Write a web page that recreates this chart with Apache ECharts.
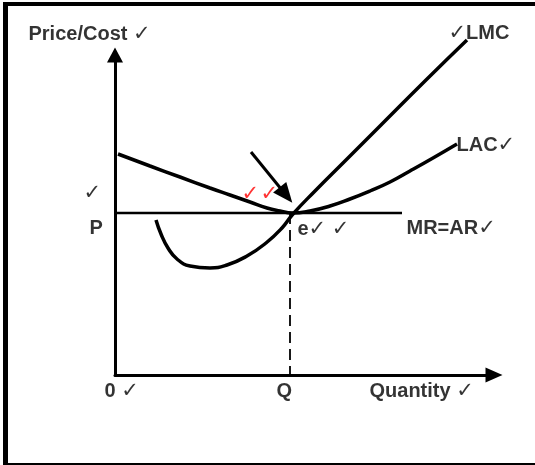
<!DOCTYPE html>
<html>
<head>
<meta charset="utf-8">
<script src="https://cdn.jsdelivr.net/npm/echarts@6/dist/echarts.min.js"></script>
<style>
  html, body { margin: 0; padding: 0; background: #fff; }
  #chart { width: 535px; height: 465px; }
</style>
</head>
<body>
<div id="chart"></div>
<script>
// curves, in plot units (x = quantity, y = price/cost)
const lacPoints = [[3, 221], [35, 209], [65, 198], [95, 187], [115, 180], [135, 173], [152, 167], [165, 164],
  [177, 162], [195, 164], [215, 169], [235, 176], [255, 184], [275, 193], [295, 204], [318, 217], [342, 231]];
const lmcPoints = [[41, 155], [46, 141], [53, 127], [62, 116], [75, 109], [95, 107], [112, 110], [132, 119],
  [151, 132], [167, 147], [178, 161], [200, 184], [230, 214], [265, 249], [310, 294], [352, 335]];
const priceLevel = 162;
const priceLineEnd = 287;
const qLevel = 175;
const pointerFrom = [136, 223];
const pointerTo = [171, 180];

// texts and where they sit
const labelTexts = ["Price/Cost ✓", "✓LMC", "LAC✓", "MR=AR✓", "e✓ ✓", "✓", "P", "0 ✓", "Q", "Quantity ✓"];
const labelAt = [[-86, 340], [334, 341], [342, 229], [292, 146], [183, 145], [-31, 181], [-25, 146],
  [-10, -17], [162, -17], [255, -17]];
const redTicks = [[127, 180], [146, 180]];

const font = "'Liberation Sans', Arial, sans-serif";
const tickFont = "'DejaVu Sans', sans-serif";

function richText(s) {
  return s.split(/(✓)/).filter(Boolean)
    .map(t => t === "✓" ? "{c|✓}" : "{b|" + t + "}").join("");
}

const chart = echarts.init(document.getElementById("chart"));

const line = (data, extra) => Object.assign({
  type: "line",
  data: data,
  symbol: "none",
  silent: true,
  clip: false,
  lineStyle: { color: "#000", width: 3.5 }
}, extra);

chart.setOption({
  animation: false,
  backgroundColor: "#fff",
  grid: { left: 115, right: 41, top: 55, bottom: 90 },
  xAxis: {
    type: "value", min: 0, max: 379,
    axisLine: { show: true, onZero: false, lineStyle: { color: "#000", width: 3 }, symbol: ["none", "triangle"], symbolSize: [15, 17] },
    axisTick: { show: false }, axisLabel: { show: false }, splitLine: { show: false }
  },
  yAxis: {
    type: "value", min: 0, max: 320,
    axisLine: { show: true, onZero: false, lineStyle: { color: "#000", width: 3 }, symbol: ["none", "triangle"], symbolSize: [16, 15] },
    axisTick: { show: false }, axisLabel: { show: false }, splitLine: { show: false }
  },
  graphic: [
    { type: "rect", shape: { x: 3, y: 2, width: 5, height: 463 }, style: { fill: "#000" }, silent: true },
    { type: "rect", shape: { x: 3, y: 2, width: 532, height: 4 }, style: { fill: "#000" }, silent: true },
    { type: "rect", shape: { x: 3, y: 463, width: 532, height: 2 }, style: { fill: "#000" }, silent: true }
  ],
  series: [
    line(lacPoints, { name: "LAC", smooth: true }),
    line(lmcPoints, { name: "LMC", smooth: true }),
    line([[0, priceLevel], [priceLineEnd, priceLevel]], {
      name: "MR=AR",
      lineStyle: { color: "#000", width: 2.5 },
      markLine: {
        silent: true,
        symbol: ["none", "triangle"],
        symbolSize: [17, 20],
        label: { show: false },
        lineStyle: { color: "#000", width: 3, type: "solid" },
        data: [[{ coord: pointerFrom }, { coord: pointerTo }]]
      }
    }),
    line([[qLevel, priceLevel], [qLevel, 0]], {
      name: "Q",
      lineStyle: { color: "#000", width: 1.8, type: [11, 6] }
    }),
    {
      type: "scatter",
      silent: true,
      clip: false,
      symbolSize: 1,
      itemStyle: { color: "rgba(0,0,0,0)" },
      data: labelAt.map((p, i) => ({ value: p, name: labelTexts[i] })),
      label: {
        show: true,
        position: [0, 0],
        align: "left",
        verticalAlign: "middle",
        color: "#000",
        formatter: p => richText(p.name),
        rich: {
          b: { fontFamily: font, fontWeight: "bold", fontSize: 20, color: "#000", lineHeight: 24 },
          c: { fontFamily: tickFont, fontSize: 21, color: "#000", lineHeight: 24 }
        }
      }
    },
    {
      type: "scatter",
      silent: true,
      clip: false,
      symbolSize: 1,
      itemStyle: { color: "rgba(0,0,0,0)" },
      data: redTicks,
      label: {
        show: true,
        position: [0, 0],
        align: "left",
        verticalAlign: "middle",
        formatter: "✓",
        fontFamily: tickFont,
        fontWeight: "bold",
        fontSize: 21,
        color: "#f00"
      }
    }
  ]
});

window.addEventListener("resize", () => chart.resize());
</script>
</body>
</html>
